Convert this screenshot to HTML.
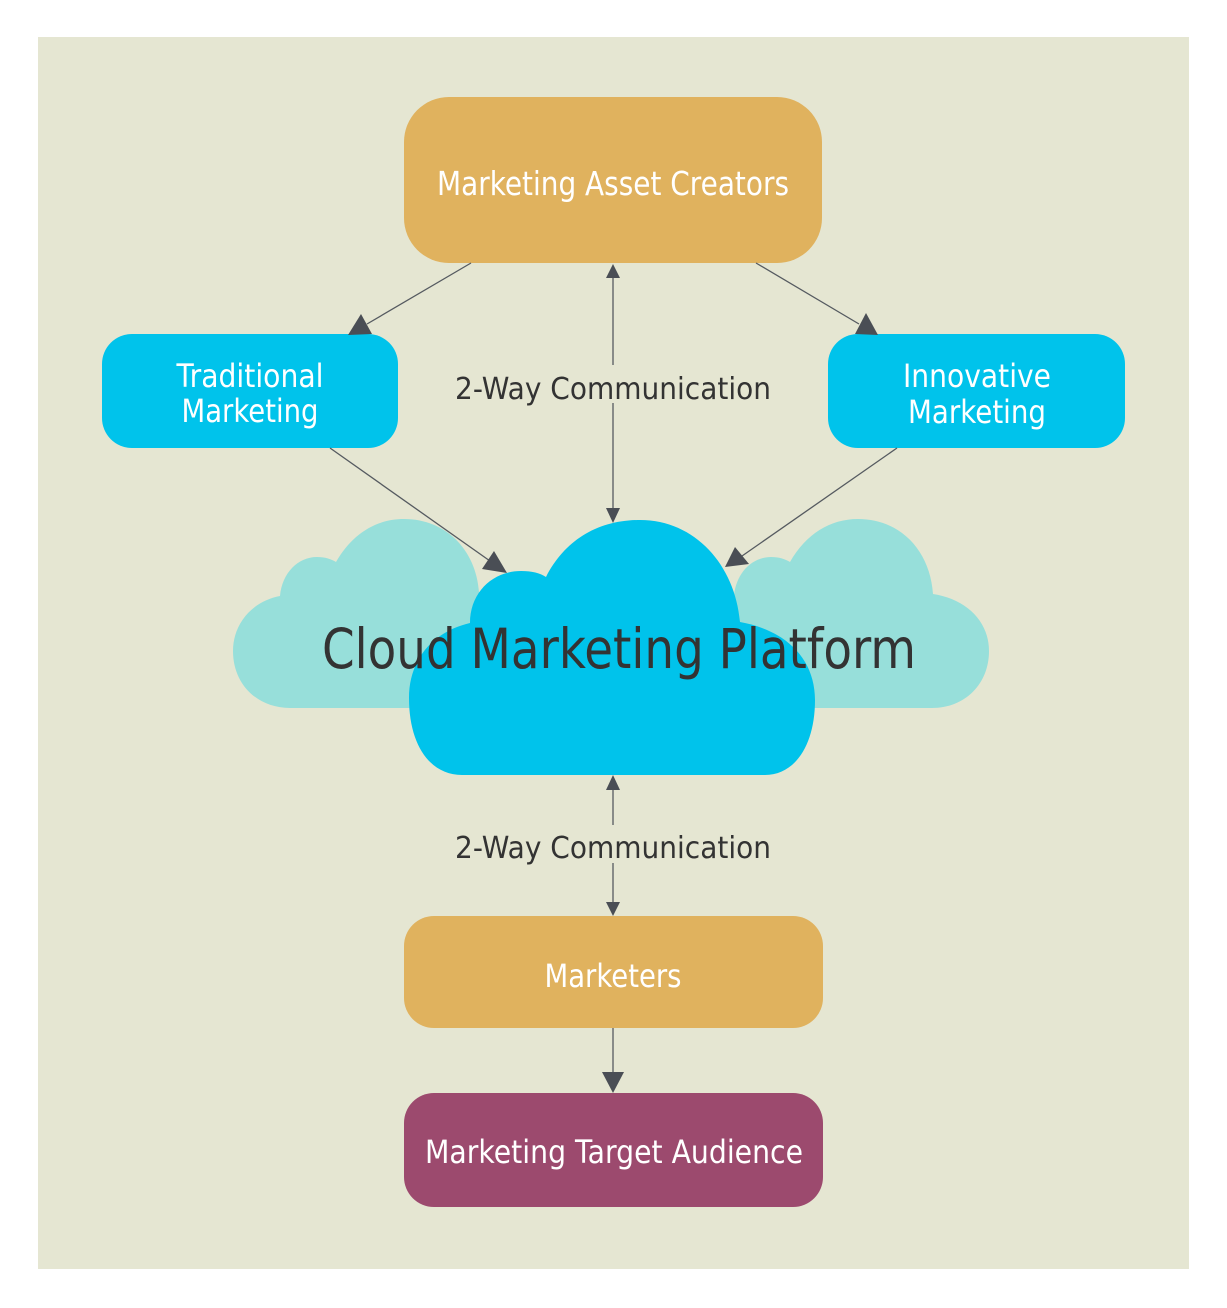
<!DOCTYPE html>
<html>
<head>
<meta charset="utf-8">
<style>
  html, body { margin: 0; padding: 0; background: #ffffff; }
  body { width: 1227px; height: 1308px; overflow: hidden; }
  svg { display: block; }
  text { font-family: "DejaVu Sans", "Liberation Sans", sans-serif; }
</style>
</head>
<body>
<svg width="1227" height="1308" viewBox="0 0 1227 1308" xmlns="http://www.w3.org/2000/svg">
  <!-- background panel -->
  <rect x="38" y="37" width="1151" height="1232" fill="#e5e6d2"/>

  <!-- light side clouds -->
  <path fill="#97dfda" d="M 290 708 C 257 708 233 684 233 651 C 233 623 253 601 280 596
    C 282 573 298 557 317 557 C 325 557 331 559 336 562
    C 352 534 376 519 404 519 C 446 519 476 550 479 592
    C 512 597 535 621 535 651 C 535 684 511 708 478 708 Z"/>
  <path fill="#97dfda" d="M 744 708 C 711 708 687 684 687 651 C 687 623 707 601 734 596
    C 736 573 752 557 771 557 C 779 557 785 559 790 562
    C 806 534 830 519 858 519 C 900 519 930 550 933 594
    C 966 599 989 621 989 651 C 989 684 965 708 932 708 Z"/>

  <!-- main cloud -->
  <path fill="#00c3eb" d="M 462 775 C 430 775 409 745 409 698 C 409 660 432 632 470 623
    C 470 592 493 571 521 571 C 532 571 540 573 546 577
    C 565 540 598 520 640 520 C 695 520 735 565 740 622
    C 785 630 815 658 815 700 C 815 745 795 775 765 775 Z"/>

  <text x="619" y="668" font-size="55" fill="#333333" text-anchor="middle" textLength="594" lengthAdjust="spacingAndGlyphs">Cloud Marketing Platform</text>

  <!-- boxes -->
  <rect x="404" y="97" width="418" height="166" rx="45" ry="45" fill="#e0b25e"/>
  <text x="613" y="195" font-size="33" fill="#ffffff" text-anchor="middle" textLength="352" lengthAdjust="spacingAndGlyphs">Marketing Asset Creators</text>

  <rect x="102" y="334" width="296" height="114" rx="30" ry="30" fill="#00c3eb"/>
  <text x="250" y="387" font-size="32" fill="#ffffff" text-anchor="middle" textLength="147" lengthAdjust="spacingAndGlyphs">Traditional</text>
  <text x="250" y="422" font-size="32" fill="#ffffff" text-anchor="middle" textLength="137" lengthAdjust="spacingAndGlyphs">Marketing</text>

  <rect x="828" y="334" width="297" height="114" rx="30" ry="30" fill="#00c3eb"/>
  <text x="977" y="387" font-size="32" fill="#ffffff" text-anchor="middle" textLength="148" lengthAdjust="spacingAndGlyphs">Innovative</text>
  <text x="977" y="423" font-size="32" fill="#ffffff" text-anchor="middle" textLength="138" lengthAdjust="spacingAndGlyphs">Marketing</text>

  <rect x="404" y="916" width="419" height="112" rx="30" ry="30" fill="#e0b25e"/>
  <text x="613" y="987" font-size="32" fill="#ffffff" text-anchor="middle" textLength="137" lengthAdjust="spacingAndGlyphs">Marketers</text>

  <rect x="404" y="1093" width="419" height="114" rx="30" ry="30" fill="#9c4a6e"/>
  <text x="614" y="1163" font-size="32" fill="#ffffff" text-anchor="middle" textLength="378" lengthAdjust="spacingAndGlyphs">Marketing Target Audience</text>

  <!-- connectors -->
  <g stroke="#555a60" stroke-width="1.3" fill="none">
    <line x1="613" y1="278" x2="613" y2="365"/>
    <line x1="613" y1="403" x2="613" y2="509"/>
    <line x1="613" y1="789" x2="613" y2="825"/>
    <line x1="613" y1="863" x2="613" y2="903"/>
    <line x1="613" y1="1028" x2="613" y2="1073"/>
    <line x1="471" y1="263" x2="367" y2="324"/>
    <line x1="756" y1="263" x2="859" y2="324"/>
    <line x1="330" y1="448" x2="490" y2="561"/>
    <line x1="897" y1="448" x2="742" y2="556"/>
  </g>

  <g fill="#4a4e55">
    <polygon points="613,264 606,278 620,278"/>
    <polygon points="613,523 606,508 620,508"/>
    <polygon points="613,775 606,790 620,790"/>
    <polygon points="613,916 606,902 620,902"/>
    <polygon points="613,1093 602,1072 624,1072"/>
    <polygon points="348,335 372,334 361,314"/>
    <polygon points="878,335 855,334 866,313"/>
    <polygon points="507,573 482,569 494,551"/>
    <polygon points="725,567 735,547 749,564"/>
  </g>

  <!-- connector labels -->
  <text x="613" y="399" font-size="30" fill="#333333" text-anchor="middle" textLength="316" lengthAdjust="spacingAndGlyphs">2-Way Communication</text>
  <text x="613" y="858" font-size="30" fill="#333333" text-anchor="middle" textLength="316" lengthAdjust="spacingAndGlyphs">2-Way Communication</text>
</svg>
</body>
</html>
